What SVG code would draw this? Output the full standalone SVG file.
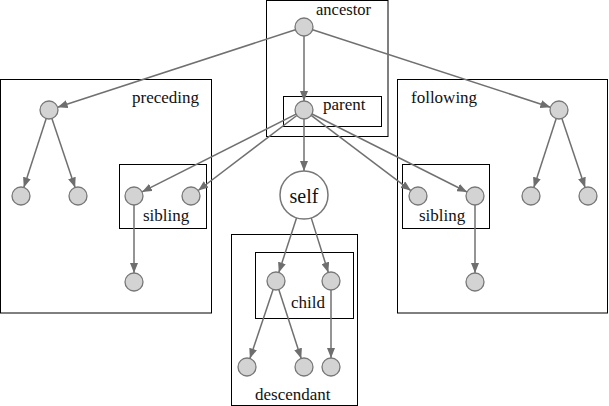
<svg xmlns="http://www.w3.org/2000/svg" width="609" height="406" viewBox="0 0 609 406">
<style>
.box{fill:none;stroke:#000;stroke-width:1}
.n{fill:#d3d3d3;stroke:#777;stroke-width:1.3}
.self{fill:#fff;stroke:#777;stroke-width:1.5}
.e{stroke:#707070;stroke-width:1.5;fill:none;marker-end:url(#ah)}
text{font-family:"Liberation Serif","Times New Roman",serif;font-size:17px;fill:#111}
</style>
<defs>
<marker id="ah" markerUnits="userSpaceOnUse" markerWidth="10" markerHeight="8" refX="10" refY="4" orient="auto">
<path d="M0,0 L10,4 L0,8 z" fill="#6e6e6e"/>
</marker>
</defs>
<rect width="609" height="406" fill="#fff"/>
<g id="boxes">
<g id="ancestor-box"><rect class="box" x="266.5" y="0.5" width="121.5" height="136"/><text x="316" y="14.5" style="font-size:16.5px">ancestor</text></g>
<g id="parent-box"><rect class="box" x="283.5" y="96.5" width="98" height="30"/><text x="323" y="110">parent</text></g>
<g id="preceding-box"><rect class="box" x="0.5" y="79.5" width="211" height="233.5"/><text x="132" y="103">preceding</text></g>
<g id="following-box"><rect class="box" x="397.5" y="79.5" width="210" height="233.5"/><text x="411" y="103">following</text></g>
<g id="sibling-left-box"><rect class="box" x="119.5" y="164.5" width="87" height="64"/><text x="143" y="221">sibling</text></g>
<g id="sibling-right-box"><rect class="box" x="402.5" y="164.5" width="87" height="64"/><text x="419" y="221">sibling</text></g>
<g id="descendant-box"><rect class="box" x="231.5" y="234.5" width="126" height="171"/><text x="255" y="400">descendant</text></g>
<g id="child-box"><rect class="box" x="255.5" y="252.5" width="98" height="66"/><text x="291" y="308">child</text></g>
</g>
<g id="connectors">
<line class="e" x1="295.4" y1="29.8" x2="57.6" y2="107.2"/>
<line class="e" x1="312.6" y1="29.8" x2="550.4" y2="107.2"/>
<line class="e" x1="304" y1="36" x2="304" y2="101"/>
<line class="e" x1="296" y1="114.1" x2="142" y2="191.9"/>
<line class="e" x1="296.8" y1="115.5" x2="198.2" y2="190.5"/>
<line class="e" x1="304" y1="119" x2="304" y2="171"/>
<line class="e" x1="311.2" y1="115.4" x2="410.8" y2="190.6"/>
<line class="e" x1="312" y1="114" x2="467" y2="192"/>
<line class="e" x1="46.2" y1="118.6" x2="23.8" y2="187.4"/>
<line class="e" x1="51.9" y1="118.5" x2="75.1" y2="187.5"/>
<line class="e" x1="134" y1="205" x2="134" y2="273"/>
<line class="e" x1="556.2" y1="118.6" x2="533.8" y2="187.4"/>
<line class="e" x1="561.9" y1="118.5" x2="585.1" y2="187.5"/>
<line class="e" x1="475" y1="205" x2="475" y2="273"/>
<line class="e" x1="296.6" y1="217.8" x2="278.8" y2="272.4"/>
<line class="e" x1="311.2" y1="217.9" x2="328.3" y2="272.4"/>
<line class="e" x1="273.1" y1="289.5" x2="249.9" y2="358.5"/>
<line class="e" x1="278.8" y1="289.6" x2="301.2" y2="358.4"/>
<line class="e" x1="331" y1="290" x2="331" y2="358"/>
</g>
<g id="n-ancestor"><circle class="n" cx="304" cy="27" r="9"/></g>
<g id="n-parent"><circle class="n" cx="304" cy="110" r="9"/></g>
<g id="n-preceding"><circle class="n" cx="49" cy="110" r="9"/></g>
<g id="n-preceding-c1"><circle class="n" cx="21" cy="196" r="9"/></g>
<g id="n-preceding-c2"><circle class="n" cx="78" cy="196" r="9"/></g>
<g id="n-sib1"><circle class="n" cx="134" cy="196" r="9"/></g>
<g id="n-sib2"><circle class="n" cx="191" cy="196" r="9"/></g>
<g id="n-sib1-c"><circle class="n" cx="134" cy="282" r="9"/></g>
<g id="n-following"><circle class="n" cx="559" cy="110" r="9"/></g>
<g id="n-following-c1"><circle class="n" cx="531" cy="196" r="9"/></g>
<g id="n-following-c2"><circle class="n" cx="588" cy="196" r="9"/></g>
<g id="n-sib3"><circle class="n" cx="418" cy="196" r="9"/></g>
<g id="n-sib4"><circle class="n" cx="475" cy="196" r="9"/></g>
<g id="n-sib4-c"><circle class="n" cx="475" cy="282" r="9"/></g>
<g id="n-self"><circle class="self" cx="304" cy="195" r="24"/><text x="304" y="203" text-anchor="middle" style="font-size:20px">self</text></g>
<g id="n-child1"><circle class="n" cx="276" cy="281" r="9"/></g>
<g id="n-child2"><circle class="n" cx="331" cy="281" r="9"/></g>
<g id="n-desc1"><circle class="n" cx="247" cy="367" r="9"/></g>
<g id="n-desc2"><circle class="n" cx="304" cy="367" r="9"/></g>
<g id="n-desc3"><circle class="n" cx="331" cy="367" r="9"/></g>
</svg>
